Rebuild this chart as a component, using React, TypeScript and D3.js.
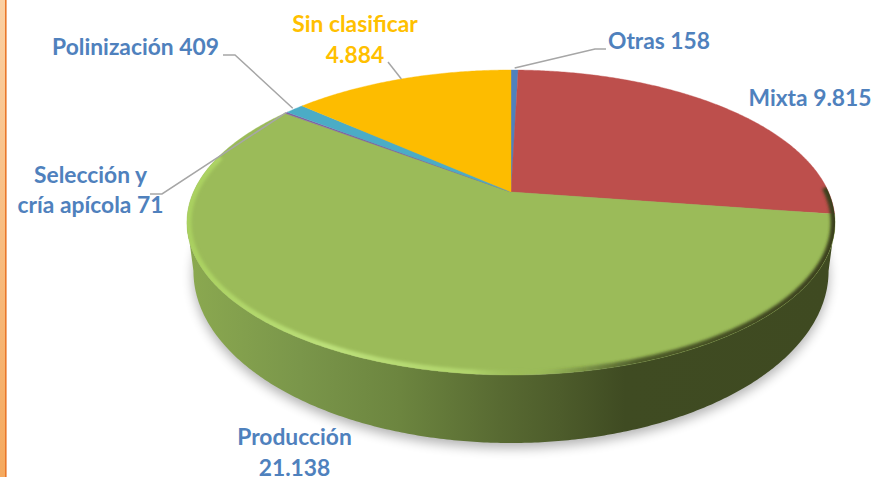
import React from "react";
import * as d3 from "d3";

const categories = ["Otras", "Mixta", "Producción", "Selección y cría apícola", "Polinización", "Sin clasificar"];
const values = [158, 9815, 21138, 71, 409, 4884];
const colors = ["#4f81bd", "#bd4f4c", "#9bbb59", "#8064a2", "#4bacc6", "#fdbc00"];

const W = 872, H = 477;
const apexX = 511, apexY = 192;
const radiusX = 317.5, radiusY = 146.4, persp = 0.2;
const faceMidRel = 30.5, baseMidY = 271, baseScaleX = 0.98, baseScaleY = 1.128;
const font = "Lato, 'Open Sans', sans-serif";

const project = (a: number, r = 1): [number, number] => {
  const X = Math.sin(a) * r, Y = -Math.cos(a) * r;
  const w = 1 - persp * Y;
  return [apexX + (radiusX * X) / w, apexY + (radiusY * Y) / w];
};
const projectBottom = (a: number): [number, number] => {
  const [x, y] = project(a);
  return [apexX + (x - apexX) * baseScaleX, baseMidY + (y - apexY - faceMidRel) * baseScaleY];
};
const deg = (d: number) => (d * Math.PI) / 180;
const line = d3.line();
const samples = (a0: number, a1: number) => {
  const n = Math.max(2, Math.ceil(Math.abs(a1 - a0) / deg(0.5)));
  return d3.range(n + 1).map((i) => a0 + ((a1 - a0) * i) / n);
};

const arcs = d3.pie<number>().sort(null).value((d) => d)(values);
const slicePath = (a0: number, a1: number) =>
  line([[apexX, apexY], ...samples(a0, a1).map((a) => project(a))]) + "Z";
const ring = samples(0, Math.PI * 2);
const topFace = line(ring.map((a) => project(a))) + "Z";
const bottomFace = line(ring.map((a) => projectBottom(a))) + "Z";
const sideA0 = d3.greatest(ring, (a) => project(a)[0]) as number;
const sideA1 = d3.least(ring, (a) => project(a)[0]) as number;
const sidePts = samples(sideA0, sideA1);
const sidePath =
  line([...sidePts.map((a) => project(a)), ...[...sidePts].reverse().map((a) => projectBottom(a))]) + "Z";
const rimPath = line(samples(deg(88), deg(285)).map((a) => project(a))) ?? "";

const sideStops: [number, string][] = [
  [187, "#8ba950"], [300, "#7a964a"], [400, "#6c853f"], [500, "#586a32"], [560, "#4d5c2b"], [625, "#3f4b22"], [835, "#3f4a21"],
];
const rimStops: [number, string, number][] = [
  [187, "#a9d05f", 1], [330, "#bce07a", 1], [470, "#b4d96f", 0.85], [530, "#9bbb59", 0], [560, "#3f4a21", 0.15], [640, "#3f4a21", 0.85], [835, "#3a3f1c", 1],
];
const xFrac = d3.scaleLinear().domain([187, 835]).range([0, 1]);

const mid = (i: number) => (arcs[i].startAngle + arcs[i].endAngle) / 2;
const leaders: { i: number; r: number; pts: [number, number][] }[] = [
  { i: 0, r: 1.02, pts: [[606, 49], [595, 49]] },
  { i: 3, r: 1.0, pts: [[150, 194], [162, 194]] },
  { i: 4, r: 1.01, pts: [[223, 55], [235, 55]] },
  { i: 5, r: 1.0, pts: [[388, 62]] },
];
const labels: { text: string; x: number; y: number; color: string }[] = [
  { text: "Sin clasificar", x: 355, y: 32, color: "#ffc000" },
  { text: "4.884", x: 355, y: 63, color: "#ffc000" },
  { text: "Otras 158", x: 659, y: 49, color: "#4f81bd" },
  { text: "Polinización 409", x: 135.5, y: 55, color: "#4f81bd" },
  { text: "Mixta 9.815", x: 810, y: 106, color: "#4f81bd" },
  { text: "Selección y", x: 90.5, y: 183, color: "#4f81bd" },
  { text: "cría apícola 71", x: 90.5, y: 213, color: "#4f81bd" },
  { text: "Producción", x: 294.5, y: 445, color: "#4f81bd" },
  { text: "21.138", x: 294.5, y: 475.5, color: "#4f81bd" },
];

export default function App() {
  return (
    <svg width={W} height={H} viewBox={`0 0 ${W} ${H}`} style={{ position: "fixed", left: 0, top: 0, display: "block", background: "#fff" }}>
      <defs>
        <linearGradient id="bar" x1="0" y1="0" x2="0" y2="1">
          <stop offset="0" stopColor="#fbd0a2" />
          <stop offset="1" stopColor="#f5a95e" />
        </linearGradient>
        <linearGradient id="side" gradientUnits="userSpaceOnUse" x1="187" x2="835" y1="0" y2="0">
          {sideStops.map(([x, c]) => <stop key={x} offset={xFrac(x)} stopColor={c} />)}
        </linearGradient>
        <linearGradient id="rim" gradientUnits="userSpaceOnUse" x1="187" x2="835" y1="0" y2="0">
          {rimStops.map(([x, c, o]) => <stop key={x} offset={xFrac(x)} stopColor={c} stopOpacity={o} />)}
        </linearGradient>
        <filter id="blurShadow" x="-10%" y="-10%" width="120%" height="130%"><feGaussianBlur stdDeviation="6" /></filter>
        <filter id="blurRim" x="-5%" y="-5%" width="110%" height="110%"><feGaussianBlur stdDeviation="1.8" /></filter>
        <clipPath id="faceClip"><path d={topFace} /></clipPath>
      </defs>
      <rect x={0} y={0} width={5} height={H} fill="url(#bar)" />
      <rect x={5} y={0} width={1.6} height={H} fill="#e9782b" />

      <path d={bottomFace} transform="translate(0,5)" fill="#000" opacity={0.3} filter="url(#blurShadow)" />
      <path d={sidePath} fill="url(#side)" />

      {arcs.map((a, i) => (
        <path key={categories[i]} d={slicePath(a.startAngle, a.endAngle)} fill={colors[i]} stroke={colors[i]} strokeWidth={0.4} />
      ))}

      <g clipPath="url(#faceClip)">
        <path d={rimPath} fill="none" stroke="url(#rim)" strokeWidth={9} filter="url(#blurRim)" />
      </g>

      {leaders.map((l) => (
        <path
          key={l.i}
          d={line([...l.pts, project(mid(l.i), l.r)]) ?? ""}
          fill="none"
          stroke="#a6a6a6"
          strokeWidth={1.5}
        />
      ))}

      {labels.map((t) => (
        <text key={t.text} x={t.x} y={t.y} textAnchor="middle" fontFamily={font} fontWeight={700} fontSize={22.8} fill={t.color}>
          {t.text}
        </text>
      ))}
    </svg>
  );
}
